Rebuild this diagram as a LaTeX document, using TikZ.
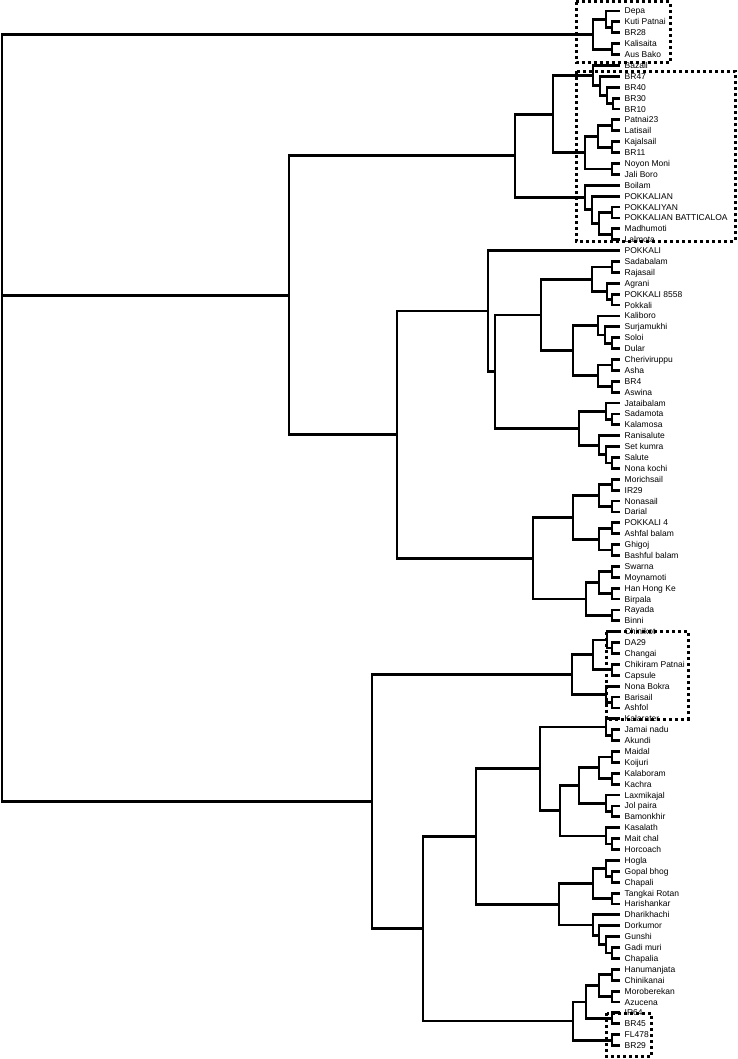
\documentclass[tikz,border=0pt]{standalone}
\usepackage{fontspec}
\setmainfont{Liberation Sans}
\usetikzlibrary{calc}
\tikzset{
  br/.style={line width=2.8pt, line cap=rect, line join=miter},
  lbl/.style={anchor=base west, inner sep=0pt, xshift=5.5pt, yshift=-3pt, font=\fontsize{8.5}{10}\selectfont},
  dotbox/.style={line width=3pt, dash pattern=on 3pt off 3pt}
}
\newcommand\jn[4]{%
  \path let \p1=($(#3)!.5!(#4)$) in coordinate (#1) at (#2pt,\y1);
  \draw[br] (#3) -| (#1) (#4) -| (#1);
}
\begin{document}
\begin{tikzpicture}[x=1pt,y=-1pt]
\useasboundingbox (0,0) rectangle (738,1059);
\foreach \lab [count=\i] in {Depa, Kuti Patnai, BR28, Kalisaita, Aus Bako, Bazail, BR47, BR40, BR30, BR10,
 Patnai23, Latisail, Kajalsail, BR11, Noyon Moni, Jali Boro, Boilam, POKKALIAN, POKKALIYAN, POKKALIAN BATTICALOA,
 Madhumoti, Lalmota, POKKALI, Sadabalam, Rajasail, Agrani, POKKALI 8558, Pokkali, Kaliboro, Surjamukhi,
 Soloi, Dular, Cheriviruppu, Asha, BR4, Aswina, Jataibalam, Sadamota, Kalamosa, Ranisalute,
 Set kumra, Salute, Nona kochi, Morichsail, IR29, Nonasail, Darial, POKKALI 4, Ashfal balam, Ghigoj,
 Bashful balam, Swarna, Moynamoti, Han Hong Ke, Birpala, Rayada, Binni, Chinikot, DA29, Changai,
 Chikiram Patnai, Capsule, Nona Bokra, Barisail, Ashfol, Kalarater, Jamai nadu, Akundi, Maidal, Koijuri,
 Kalaboram, Kachra, Laxmikajal, Jol paira, Bamonkhir, Kasalath, Mait chal, Horcoach, Hogla, Gopal bhog,
 Chapali, Tangkai Rotan, Harishankar, Dharikhachi, Dorkumor, Gunshi, Gadi muri, Chapalia, Hanumanjata, Chinikanai,
 Moroberekan, Azucena, IR64, BR45, FL478, BR29}
{
  \coordinate (e\i) at (619,{11+(\i-1)*10.89});
  \node[lbl] (t\i) at (e\i) {\lab};
}
% cluster 1
\jn{a1}{612}{e2}{e3}
\jn{a2}{606}{e1}{a1}
\jn{a3}{612}{e4}{e5}
\jn{c1}{593}{a2}{a3}
% upper-middle
\jn{b1}{613}{e9}{e10}
\jn{b2}{607}{e8}{b1}
\jn{b3}{600}{e7}{b2}
\jn{b4}{593}{e6}{b3}
\jn{b5}{612}{e11}{e12}
\jn{b6}{612}{e13}{e14}
\jn{b7}{598}{b5}{b6}
\jn{b8}{612}{e15}{e16}
\jn{b9}{585}{b7}{b8}
\jn{b10}{553}{b4}{b9}
\jn{b11}{612}{e19}{e20}
\jn{b12}{612}{e21}{e22}
\jn{b13}{599}{b11}{b12}
\jn{b14}{592}{e18}{b13}
\jn{b15}{585}{e17}{b14}
\jn{nB}{515}{b10}{b15}
% middle
\jn{m1}{612}{e24}{e25}
\jn{m2}{612}{e27}{e28}
\jn{m3}{607}{e26}{m2}
\jn{m4}{592}{m1}{m3}
\jn{m5}{612}{e31}{e32}
\jn{m6}{605}{e30}{m5}
\jn{m7}{598}{e29}{m6}
\jn{m8}{612}{e33}{e34}
\jn{m9}{612}{e35}{e36}
\jn{m10}{598}{m8}{m9}
\jn{m11}{573}{m7}{m10}
\jn{m12}{541}{m4}{m11}
\jn{m13}{612}{e38}{e39}
\jn{m14}{606}{e37}{m13}
\jn{m15}{612}{e42}{e43}
\jn{m16}{606}{e41}{m15}
\jn{m17}{599}{e40}{m16}
\jn{m18}{579}{m14}{m17}
\jn{m19}{495}{m12}{m18}
\jn{m20}{488}{e23}{m19}
\jn{m21}{612}{e44}{e45}
\jn{m22}{612}{e46}{e47}
\jn{m23}{599}{m21}{m22}
\jn{m24}{612}{e48}{e49}
\jn{m25}{612}{e50}{e51}
\jn{m26}{599}{m24}{m25}
\jn{m27}{573}{m23}{m26}
\jn{m28}{612}{e52}{e53}
\jn{m29}{612}{e54}{e55}
\jn{m30}{599}{m28}{m29}
\jn{m31}{612}{e56}{e57}
\jn{m32}{586}{m30}{m31}
\jn{m33}{533}{m27}{m32}
\jn{nC}{397}{m20}{m33}
\jn{nA}{289}{nB}{nC}
% bottom
\jn{d1}{612}{e59}{e60}
\jn{d2}{607}{e58}{d1}
\jn{d3}{612}{e61}{e62}
\jn{d4}{593}{d2}{d3}
\jn{d5}{612}{e64}{e65}
\jn{d6}{606}{e63}{d5}
\jn{d7}{572}{d4}{d6}
\jn{d8}{612}{e67}{e68}
\jn{d9}{606}{e66}{d8}
\jn{d10}{612}{e69}{e70}
\jn{d11}{612}{e71}{e72}
\jn{d12}{599}{d10}{d11}
\jn{d13}{612}{e74}{e75}
\jn{d14}{606}{e73}{d13}
\jn{d15}{579}{d12}{d14}
\jn{d16}{612}{e77}{e78}
\jn{d17}{606}{e76}{d16}
\jn{d18}{560}{d15}{d17}
\jn{d19}{540}{d9}{d18}
\jn{d20}{612}{e80}{e81}
\jn{d21}{606}{e79}{d20}
\jn{d22}{612}{e82}{e83}
\jn{d23}{593}{d21}{d22}
\jn{d24}{612}{e87}{e88}
\jn{d25}{606}{e86}{d24}
\jn{d26}{599}{e85}{d25}
\jn{d27}{593}{e84}{d26}
\jn{d28}{559}{d23}{d27}
\jn{d29}{476}{d19}{d28}
\jn{d30}{612}{e89}{e90}
\jn{d31}{612}{e91}{e92}
\jn{d32}{599}{d30}{d31}
\jn{d33}{612}{e93}{e94}
\jn{d34}{586}{d32}{d33}
\jn{d35}{612}{e95}{e96}
\jn{d36}{573}{d34}{d35}
\jn{d37}{423}{d29}{d36}
\jn{nD}{372}{d7}{d37}
% root
\path let \p1=(nA) in coordinate (root) at (2pt,\y1);
\draw[br] (nA) -- (root) (c1) -| (root) (nD) -| (root);
% dotted boxes
\draw[dotbox] (576,2) rectangle (670,62.5);
\draw[dotbox] (576,71.5) rectangle (735,241.5);
\draw[dotbox] (606.5,631.5) rectangle (688,719);
\draw[dotbox] (606.5,1013) rectangle (651,1056.5);
\end{tikzpicture}
\end{document}
